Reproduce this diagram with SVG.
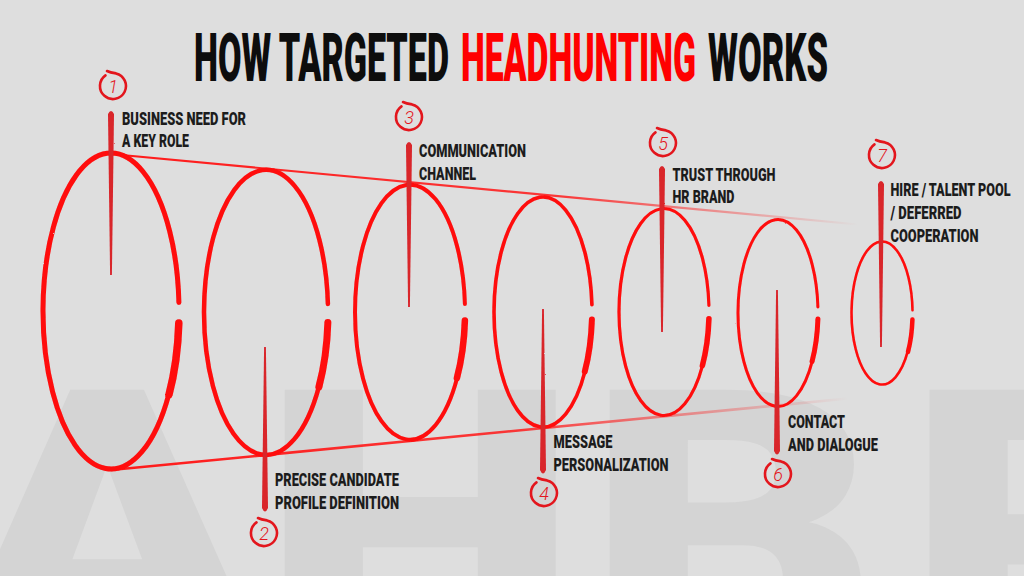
<svg xmlns="http://www.w3.org/2000/svg" width="1024" height="576" viewBox="0 0 1024 576">
<style>
.bg{fill:#dedede}
.wm{font-family:Roboto,"Liberation Sans",sans-serif;font-weight:900;font-size:380px;fill:#d4d4d4}
.title{font-family:Roboto,"Liberation Sans",sans-serif;font-weight:900;font-size:66px;fill:#0d0d0d}
.title.red{fill:#ff0000}
.lbl{font-family:Roboto,"Liberation Sans",sans-serif;font-weight:900;font-size:19px;fill:#1c1c1c}
.ell{fill:none;stroke:#ff0a0a;stroke-linecap:round}
.thick{fill:none;stroke:#ff0a0a;stroke-linecap:round}
.brush{fill:#d9252b}
.num{fill:none;stroke:#e3161d;stroke-width:2.6;stroke-linecap:round}
.dig{font-family:Roboto,"DejaVu Sans",sans-serif;font-weight:300;font-style:italic;font-size:18px;fill:#e3161d;text-anchor:middle}
</style>
<defs>
<linearGradient id="fadeTop" gradientUnits="userSpaceOnUse" x1="111" y1="0" x2="858" y2="0">
<stop offset="0" stop-color="#ff1a1a" stop-opacity="1"/>
<stop offset="0.6" stop-color="#ff1a1a" stop-opacity="0.85"/>
<stop offset="1" stop-color="#ff1a1a" stop-opacity="0"/>
</linearGradient>
<linearGradient id="fadeBot" gradientUnits="userSpaceOnUse" x1="111" y1="0" x2="848" y2="0">
<stop offset="0" stop-color="#ff1a1a" stop-opacity="1"/>
<stop offset="0.55" stop-color="#ff1a1a" stop-opacity="0.85"/>
<stop offset="1" stop-color="#ff1a1a" stop-opacity="0"/>
</linearGradient>
<filter id="rough" x="-10%" y="-10%" width="120%" height="120%">
<feTurbulence type="fractalNoise" baseFrequency="0.9" numOctaves="1" seed="3" result="n"/>
<feDisplacementMap in="SourceGraphic" in2="n" scale="1.6"/>
</filter>
</defs>
<rect class="bg" x="0" y="0" width="1024" height="576"/>
<g id="watermark" transform="scale(1.2,1)">
<text class="wm" x="-40" y="660">A</text>
<text class="wm" x="216.7" y="660">H</text>
<text class="wm" x="487.5" y="660">B</text>
<text class="wm" x="754" y="660">R</text>
</g>
<g id="title">
<text class="title" x="194" y="81" textLength="255" lengthAdjust="spacingAndGlyphs">HOW TARGETED</text>
<text class="title red" x="461" y="81" textLength="235" lengthAdjust="spacingAndGlyphs">HEADHUNTING</text>
<text class="title" x="708" y="81" textLength="120" lengthAdjust="spacingAndGlyphs">WORKS</text>
</g>
<g id="connectors">
<line x1="111" y1="154" x2="858" y2="224.5" stroke="url(#fadeTop)" stroke-width="2.2"/>
<line x1="111" y1="470" x2="848" y2="398.5" stroke="url(#fadeBot)" stroke-width="2.6"/>
</g>
<g id="ellipses" filter="url(#rough)">
<g id="e1"><path class="ell" stroke-width="5" d="M178.8 323.1 A68 158 0 1 1 178.9 302.5"/><path class="thick" stroke-width="7.5" d="M178.8 323.1 A68 158 0 0 1 169 394.6"/></g>
<g id="e2"><path class="ell" stroke-width="4.5" d="M327.85 322.5 A62 142.5 0 1 1 327.9 304"/><path class="thick" stroke-width="7" d="M327.85 322.5 A62 142.5 0 0 1 318.9 387"/></g>
<g id="e3"><path class="ell" stroke-width="4" d="M464.9 320.4 A55 127.5 0 1 1 464.9 303.9"/><path class="thick" stroke-width="6.5" d="M464.9 320.4 A55 127.5 0 0 1 456.9 378.1"/></g>
<g id="e4"><path class="ell" stroke-width="3.6" d="M591.9 319.5 A49 115 0 1 1 591.9 304.6"/><path class="thick" stroke-width="6" d="M591.9 319.5 A49 115 0 0 1 584.8 371.6"/></g>
<g id="e5"><path class="ell" stroke-width="3.2" d="M708.9 318.7 A45 103.5 0 1 1 708.9 305.3"/><path class="thick" stroke-width="5.5" d="M708.9 318.7 A45 103.5 0 0 1 702.4 365.6"/></g>
<g id="e6"><path class="ell" stroke-width="3" d="M817.9 319 A40 93.5 0 1 1 817.9 306.9"/><path class="thick" stroke-width="5" d="M817.9 319 A40 93.5 0 0 1 812.1 361.4"/></g>
<g id="e7"><path class="ell" stroke-width="2.6" d="M912.4 319.5 A30.5 71.5 0 1 1 912.5 310.2"/><path class="thick" stroke-width="4.5" d="M912.4 319.5 A30.5 71.5 0 0 1 908 351.9"/></g>
</g>
<g id="step1">
<path class="brush" filter="url(#rough)" d="M108 114 Q111 108 114 114 L111.9 275 L110.1 275 Z"/>
<path class="num" d="M107 71 Q110 72.5 116 73.4 A13 13 0 1 1 105.5 75.4"/>
<text class="dig" x="113" y="92.5">1</text>
<text class="lbl" x="122" y="125" textLength="124" lengthAdjust="spacingAndGlyphs">BUSINESS NEED FOR</text>
<text class="lbl" x="122" y="147" textLength="67" lengthAdjust="spacingAndGlyphs">A KEY ROLE</text>
</g>
<g id="step2">
<path class="brush" filter="url(#rough)" d="M264.1 347 L265.9 347 L268 508 Q265 515 262 508 Z"/>
<path class="num" d="M258 518 Q261 519.5 267 520.4 A13 13 0 1 1 256.5 522.4"/>
<text class="dig" x="264" y="539.5">2</text>
<text class="lbl" x="275" y="486" textLength="124" lengthAdjust="spacingAndGlyphs">PRECISE CANDIDATE</text>
<text class="lbl" x="275" y="509" textLength="124" lengthAdjust="spacingAndGlyphs">PROFILE DEFINITION</text>
</g>
<g id="step3">
<path class="brush" filter="url(#rough)" d="M406 145 Q409 139 412 145 L409.9 307 L408.1 307 Z"/>
<path class="num" d="M403 102 Q406 103.5 412 104.4 A13 13 0 1 1 401.5 106.4"/>
<text class="dig" x="409" y="123.5">3</text>
<text class="lbl" x="419" y="157" textLength="107" lengthAdjust="spacingAndGlyphs">COMMUNICATION</text>
<text class="lbl" x="419" y="180" textLength="57" lengthAdjust="spacingAndGlyphs">CHANNEL</text>
</g>
<g id="step4">
<path class="brush" filter="url(#rough)" d="M542.1 309 L543.9 309 L546 470 Q543 477 540 470 Z"/>
<path class="num" d="M538 478 Q541 479.5 547 480.4 A13 13 0 1 1 536.5 482.4"/>
<text class="dig" x="544" y="499.5">4</text>
<text class="lbl" x="553.5" y="448" textLength="59" lengthAdjust="spacingAndGlyphs">MESSAGE</text>
<text class="lbl" x="553.5" y="471" textLength="115" lengthAdjust="spacingAndGlyphs">PERSONALIZATION</text>
</g>
<g id="step5">
<path class="brush" filter="url(#rough)" d="M659 169 Q662 163 665 169 L662.9 332 L661.1 332 Z"/>
<path class="num" d="M657 128 Q660 129.5 666 130.4 A13 13 0 1 1 655.5 132.4"/>
<text class="dig" x="663" y="149.5">5</text>
<text class="lbl" x="672.5" y="181" textLength="103" lengthAdjust="spacingAndGlyphs">TRUST THROUGH</text>
<text class="lbl" x="672.5" y="203" textLength="62" lengthAdjust="spacingAndGlyphs">HR BRAND</text>
</g>
<g id="step6">
<path class="brush" filter="url(#rough)" d="M776.1 290 L777.9 290 L780 451 Q777 458 774 451 Z"/>
<path class="num" d="M772 459 Q775 460.5 781 461.4 A13 13 0 1 1 770.5 463.4"/>
<text class="dig" x="778" y="480.5">6</text>
<text class="lbl" x="788" y="428" textLength="57" lengthAdjust="spacingAndGlyphs">CONTACT</text>
<text class="lbl" x="788" y="451" textLength="90" lengthAdjust="spacingAndGlyphs">AND DIALOGUE</text>
</g>
<g id="step7">
<path class="brush" filter="url(#rough)" d="M878 184 Q881 178 884 184 L881.9 347 L880.1 347 Z"/>
<path class="num" d="M876 140 Q879 141.5 885 142.4 A13 13 0 1 1 874.5 144.4"/>
<text class="dig" x="882" y="161.5">7</text>
<text class="lbl" x="890.5" y="196" textLength="120" lengthAdjust="spacingAndGlyphs">HIRE / TALENT POOL</text>
<text class="lbl" x="890.5" y="219" textLength="71" lengthAdjust="spacingAndGlyphs">/ DEFERRED</text>
<text class="lbl" x="890.5" y="242" textLength="88" lengthAdjust="spacingAndGlyphs">COOPERATION</text>
</g>
</svg>
